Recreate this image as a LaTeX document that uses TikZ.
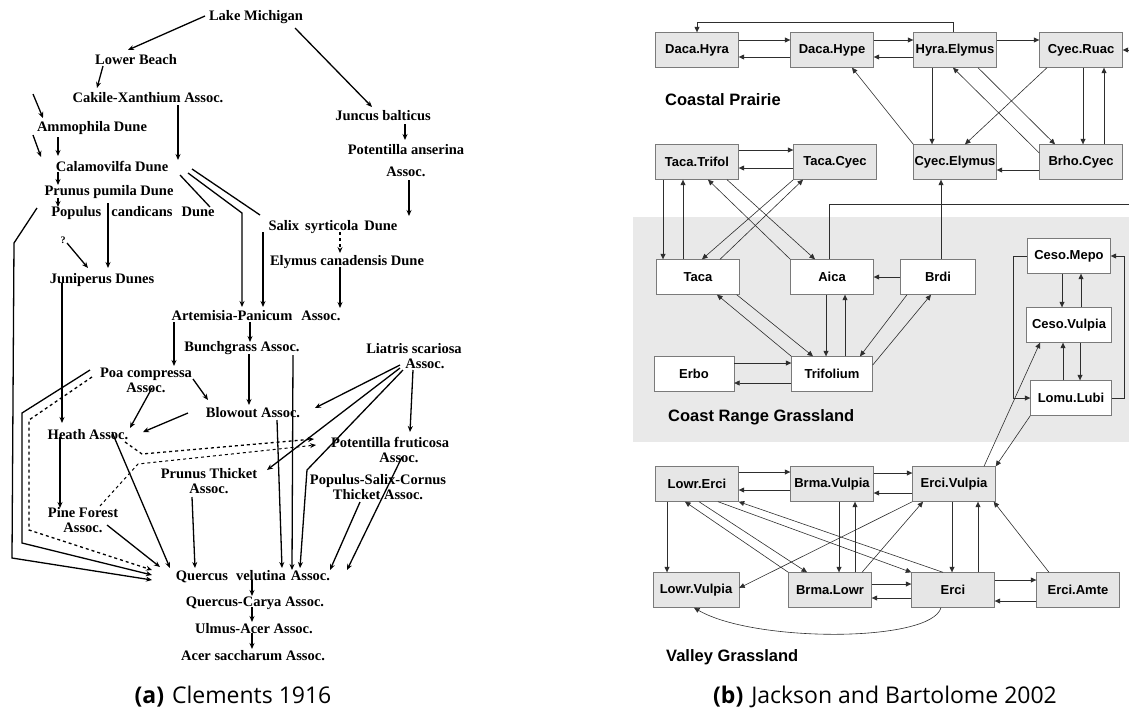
\documentclass[tikz,border=0pt]{standalone}
\usepackage{fontspec}
\usetikzlibrary{arrows.meta,calc}
\newfontfamily\clemfamily{Liberation Serif}
\newfontfamily\boxfamily{Liberation Sans}
\newfontfamily\capfamily{Open Sans}
\definecolor{boxfill}{HTML}{E6E6E6}
\definecolor{boxline}{HTML}{7A7A7A}
\definecolor{bandfill}{HTML}{E9E9E9}
\definecolor{edgecol}{HTML}{2E2E2E}
\tikzset{
  clem/.style={font=\clemfamily\bfseries\fontsize{14.5}{15}\selectfont, inner sep=0pt, align=center},
  cline/.style={line width=1.3pt},
  carr/.style={cline, -{Stealth[length=6pt,width=5pt]}},
  gbox/.style={draw=boxline, fill=boxfill, minimum width=83pt, minimum height=35pt,
    inner sep=0pt, font=\boxfamily\bfseries\fontsize{13}{15}\selectfont},
  wbox/.style={gbox, fill=white},
  bline/.style={line width=0.6pt, draw=edgecol},
  barr/.style={bline, -{Triangle[length=5.5pt,width=5pt]}},
  region/.style={anchor=west, inner sep=0pt, font=\boxfamily\bfseries\fontsize{16.5}{18}\selectfont},
  caption/.style={inner sep=0pt, font=\capfamily\fontsize{23}{26}\selectfont}
}
\begin{document}
\begin{tikzpicture}[x=1pt,y=-1pt]
\useasboundingbox (0,0) rectangle (1129,713);

% (a) Clements 1916
\node[clem] (lake) at (256,17) {Lake Michigan};
\node[clem] (lower) at (136,60) {Lower Beach};
\node[clem] (cakile) at (148,98) {Cakile-Xanthium Assoc.};
\node[clem] (ammo) at (92,128) {Ammophila Dune};
\node[clem] (calam) at (112,166) {Calamovilfa Dune};
\node[clem] (prunus) at (109,192) {Prunus pumila Dune};
\node[clem] (populus) at (133,213) {Populus\hspace{10pt}candicans\hspace{9pt}Dune};
\node[clem] (quest) at (63,240) {\fontsize{10}{12}\selectfont ?};
\node[clem] (junip) at (102,280) {Juniperus Dunes};
\node[clem] (salix) at (333,227) {Salix\hspace{6pt}syrticola\hspace{6pt}Dune};
\node[clem] (elymus) at (347,262) {Elymus canadensis Dune};
\node[clem] (juncus) at (383,116) {Juncus balticus};
\node[clem] (potans) at (406,161) {Potentilla anserina\\[7pt]Assoc.};
\node[clem] (artem) at (256,316) {Artemisia-Panicum\hspace{9pt}Assoc.};
\node[clem] (bunch) at (242,348) {Bunchgrass Assoc.};
\node[clem] (poa) at (146,380) {Poa compressa\\Assoc.};
\node[clem] (blowout) at (253,413) {Blowout Assoc.};
\node[clem] (liatris) at (414,356) {Liatris scariosa\\\hspace{22pt}Assoc.};
\node[clem] (heath) at (88,435) {Heath Assoc.};
\node[clem] (potfru) at (390,450) {Potentilla fruticosa\\\hspace{18pt}Assoc.};
\node[clem] (prunth) at (209,481) {Prunus Thicket\\Assoc.};
\node[clem] (popsal) at (378,487) {Populus-Salix-Cornus\\Thicket Assoc.};
\node[clem] (pine) at (83,520) {Pine Forest\\Assoc.};
\node[clem] (querc) at (253,577) {Quercus\hspace{8pt}velutina\hspace{5pt}Assoc.};
\node[clem] (qcarya) at (255,603) {Quercus-Carya Assoc.};
\node[clem] (ulmus) at (254,629) {Ulmus-Acer Assoc.};
\node[clem] (acer) at (253,656) {Acer saccharum Assoc.};
\coordinate (inA) at (33,94);
\coordinate (inB) at (33,135);

\draw[carr] ($(lake)+(-51,-1)$) -- ($(lower)+(-8,-10)$);
\draw[carr] ($(lake)+(39,11)$) -- ($(juncus)+(-11,-9)$);
\draw[carr] ($(lower)+(-33,6)$) -- ($(cakile)+(-51,-10)$);
\draw[carr] ($(cakile)+(30,7)$) -- ($(calam)+(66,-6)$);
\draw[carr] (inA) -- ($(ammo)+(-49,-10)$);
\draw[carr] (inB) -- ($(calam)+(-71,-9)$);
\draw[carr] ($(ammo)+(-34,9)$) -- ($(calam)+(-54,-10)$);
\draw[carr] ($(calam)+(-54,6)$) -- ($(prunus)+(-51,-7)$);
\draw[carr] ($(prunus)+(-51,6)$) -- ($(populus)+(-75,-6)$);
\draw[carr] ($(populus)+(-25,-10)$) -- ($(junip)+(6,-12)$);
\draw[carr] ($(quest)+(4,3)$) -- ($(junip)+(-14,-12)$);
\draw[cline] ($(calam)+(68,9)$) -- ($(populus)+(77,-6)$);
\draw[carr] ($(calam)+(76,7)$) -- (242,213) -- ($(artem)+(-14,-9)$);
\draw[cline] ($(calam)+(80,3)$) -- ($(salix)+(-73,-12)$);
\draw[carr] ($(salix)+(-70,5)$) -- ($(artem)+(7,-9)$);
\draw[carr, dashed] ($(salix)+(7,5)$) -- ($(elymus)+(-7,-9)$);
\draw[carr] ($(elymus)+(-7,5)$) -- ($(artem)+(84,-8)$);
\draw[carr] ($(juncus)+(22,8)$) -- ($(potans)+(-1,-21)$);
\draw[carr] ($(potans)+(3,19)$) -- ($(salix)+(76,-11)$);
\draw[carr] ($(artem)+(-6,6)$) -- ($(bunch)+(8,-6)$);
\draw[carr, line width=2pt] ($(artem)+(-82,6)$) -- ($(poa)+(28,-14)$);
\draw[carr] ($(bunch)+(7,6)$) -- ($(blowout)+(-4,-8)$);
\draw[carr] ($(poa)+(47,-1)$) -- ($(blowout)+(-45,-13)$);
\draw[carr] ($(poa)+(6,8)$) -- ($(heath)+(42,-7)$);
\draw[carr] ($(blowout)+(-65,0)$) -- ($(heath)+(55,-3)$);
\draw[carr] ($(junip)+(-40,3)$) -- ($(heath)+(-26,-12)$);
\draw[carr] ($(heath)+(-28,2)$) -- ($(pine)+(-23,-12)$);
\draw[carr] ($(pine)+(24,5)$) -- ($(querc)+(-93,-10)$);
\draw[carr] ($(heath)+(24,-3)$) -- ($(querc)+(-83,-9)$);
\draw[carr] ($(populus)+(-96,-5)$) -- (14,243) -- (12,558) -- ($(querc)+(-101,3)$);
\draw[carr] ($(poa)+(-56,-10)$) -- (22,413) -- (22,543) -- ($(querc)+(-101,-2)$);
\draw[carr, dashed] ($(poa)+(-54,-3)$) -- (29,420) -- (29,530) -- ($(querc)+(-101,-7)$);
\draw[carr, dashed] ($(heath)+(37,7)$) -- (142,454) -- ($(potfru)+(-76,-11)$);
\draw[carr, dashed, line width=1pt] ($(pine)+(17,-14)$) -- (138,464) -- ($(potfru)+(-74,-5)$);
\draw[carr] ($(liatris)+(-14,9)$) -- ($(blowout)+(62,-5)$);
\draw[carr] ($(liatris)+(-14,12)$) -- ($(prunth)+(58,-11)$);
\draw[carr] ($(liatris)+(-11,14)$) -- (307,470) -- ($(querc)+(47,-9)$);
\draw[carr] ($(liatris)+(-1,14)$) -- ($(potfru)+(20,-18)$);
\draw[carr] ($(potfru)+(12,7)$) -- ($(querc)+(94,-7)$);
\draw[carr] ($(popsal)+(-18,15)$) -- ($(querc)+(77,-7)$);
\draw[carr] ($(prunth)+(-17,16)$) -- ($(querc)+(-58,-9)$);
\draw[carr] ($(blowout)+(24,7)$) -- ($(querc)+(29,-9)$);
\draw[carr] ($(bunch)+(51,7)$) -- ($(querc)+(39,-7)$);
\draw[carr] ($(querc)+(-1,3)$) -- ($(qcarya)+(-3,-7)$);
\draw[carr] ($(qcarya)+(-3,4)$) -- ($(ulmus)+(-2,-7)$);
\draw[carr] ($(ulmus)+(-2,4)$) -- ($(acer)+(-1,-7)$);

\node[caption] (capA) at (233,697) {\textbf{(a)}\hspace{8pt}Clements 1916};

% (b) Jackson and Bartolome 2002
\fill[bandfill] (633,217) rectangle (1129,442);

\node[gbox] (dhyra) at (697,50) {Daca.Hyra};
\node[gbox] (dhype) at (832,50) {Daca.Hype};
\node[gbox] (hyel) at (955,50) {Hyra.Elymus};
\node[gbox] (cyru) at (1081,50) {Cyec.Ruac};
\node[gbox] (tatr) at (697,162) {Taca.Trifol};
\node[gbox] (tacy) at (835,162) {Taca.Cyec};
\node[gbox] (cyel) at (955,162) {Cyec.Elymus};
\node[gbox] (brcy) at (1081,162) {Brho.Cyec};
\node[region] (prairie) at (665,100) {Coastal Prairie};

\node[wbox] (taca) at (698,277) {Taca};
\node[wbox] (aica) at (832,277) {Aica};
\node[wbox, minimum width=75pt] (brdi) at (938,277) {Brdi};
\node[wbox, minimum width=80pt] (erbo) at (694,374) {Erbo};
\node[wbox, minimum width=81pt] (trif) at (832,374) {Trifolium};
\node[wbox] (cemp) at (1069,256) {Ceso.Mepo};
\node[wbox, minimum width=85pt] (cevu) at (1069,325) {Ceso.Vulpia};
\node[wbox, minimum width=81pt] (lolu) at (1071,398) {Lomu.Lubi};
\node[region] (range) at (668,417) {Coast Range Grassland};

\node[gbox] (lwer) at (697,484) {Lowr.Erci};
\node[gbox] (bmvu) at (832,484) {Brma.Vulpia};
\node[gbox] (ervu) at (954,484) {Erci.Vulpia};
\node[gbox, minimum width=86pt] (lwvu) at (696,590) {Lowr.Vulpia};
\node[gbox] (bmlw) at (830,590) {Brma.Lowr};
\node[gbox] (erci) at (953,590) {Erci};
\node[gbox] (eram) at (1078,590) {Erci.Amte};
\node[region] (valley) at (666,657) {Valley Grassland};
\coordinate (rimA) at (1129,50);
\coordinate (rimB) at (1129,204);

% coastal prairie
\draw[barr] ([yshift=10pt]dhyra.east) -- ([yshift=10pt]dhype.west);
\draw[barr] ([yshift=-7pt]dhype.west) -- ([yshift=-7pt]dhyra.east);
\draw[barr] ([yshift=10pt]dhype.east) -- ([yshift=10pt]hyel.west);
\draw[barr] ([yshift=-7pt]hyel.west) -- ([yshift=-7pt]dhype.east);
\draw[barr] ([yshift=10pt]hyel.east) -- ([yshift=10pt]cyru.west);
\draw[barr] ([xshift=-2pt]hyel.north) -- ++(0,-10) -| (dhyra.north);
\draw[barr] (rimA) -- (cyru.east);
\draw[barr] (cyel.north west) -- ([xshift=20pt]dhype.south);
\draw[barr] ([xshift=-23pt]hyel.south) -- ([xshift=-23pt]cyel.north);
\draw[barr] ([xshift=23pt]hyel.south) -- ([xshift=-26pt]brcy.north);
\draw[barr] ([yshift=9pt]brcy.west) -- ([xshift=-2pt]hyel.south);
\draw[barr] ([xshift=-34pt]cyru.south) -- ([xshift=10pt]cyel.north);
\draw[barr] ([xshift=2pt]cyru.south) -- ([xshift=2pt]brcy.north);
\draw[barr] ([xshift=23pt]brcy.north) -- ([xshift=23pt]cyru.south);
\draw[barr] ([yshift=-8pt]brcy.west) -- ([yshift=-8pt]cyel.east);
\draw[barr] ([yshift=12pt]tatr.east) -- ([yshift=12pt]tacy.west);
\draw[barr] ([yshift=-6pt]tacy.west) -- ([yshift=-6pt]tatr.east);

% coast range grassland
\draw[barr] ([xshift=-34pt]tatr.south) -- ([xshift=-35pt]taca.north);
\draw[barr] ([xshift=-15pt]taca.north) -- ([xshift=-14pt]tatr.south);
\draw[barr] ([xshift=30pt]tatr.south) -- ([xshift=-17pt]aica.north);
\draw[barr] (aica.north west) -- ([xshift=11pt]tatr.south);
\draw[barr] (tacy.south west) -- ([xshift=4pt]taca.north);
\draw[barr] ([xshift=22pt]taca.north) -- ([xshift=-32pt]tacy.south);
\draw[bline] ([xshift=-3pt]aica.north) |- (rimB);
\draw[barr] (brdi.west) -- (aica.east);
\draw[barr] ([xshift=3pt]brdi.north) -- ([xshift=-14pt]cyel.south);
\draw[barr] ([xshift=-6pt]aica.south) -- ([xshift=-6pt]trif.north);
\draw[barr] ([xshift=13pt]trif.north) -- ([xshift=13pt]aica.south);
\draw[barr] ([xshift=-31pt]brdi.south) -- ([xshift=28pt]trif.north);
\draw[barr] ([yshift=9pt]trif.east) -- ([xshift=-7pt]brdi.south);
\draw[barr] ([xshift=-3pt]taca.south east) -- ([xshift=-19pt]trif.north);
\draw[barr] (trif.north west) -- ([xshift=19pt]taca.south);
\draw[barr] ([yshift=11pt]erbo.east) -- ([yshift=11pt]trif.west);
\draw[barr] ([yshift=-9pt]trif.west) -- ([yshift=-9pt]erbo.east);
\draw[barr] ([xshift=-7pt]cemp.south) -- ([xshift=-7pt]cevu.north);
\draw[barr] ([xshift=12pt]cevu.north) -- ([xshift=12pt]cemp.south);
\draw[barr] ([xshift=11pt]cevu.south) -- ([xshift=9pt]lolu.north);
\draw[barr] ([xshift=-8pt]lolu.north) -- ([xshift=-6pt]cevu.south);
\draw[barr] (cemp.west) -- ++(-14,0) |- (lolu.west);
\draw[barr] (lolu.east) -- ++(13,0) |- (cemp.east);

% valley grassland
\draw[barr] ([xshift=30pt]ervu.north) -- ([xshift=-29pt]cevu.south);
\draw[barr] (lolu.south west) -- (ervu.north east);
\draw[barr] ([yshift=12pt]lwer.east) -- ([yshift=12pt]bmvu.west);
\draw[barr] ([yshift=-6pt]bmvu.west) -- ([yshift=-6pt]lwer.east);
\draw[barr] ([yshift=11pt]bmvu.east) -- ([yshift=11pt]ervu.west);
\draw[barr] ([yshift=-9pt]ervu.west) -- ([yshift=-9pt]bmvu.east);
\draw[barr] ([xshift=-30pt]lwer.south) -- ([xshift=-29pt]lwvu.north);
\draw[barr] ([xshift=7pt]bmvu.south) -- ([xshift=9pt]bmlw.north);
\draw[barr] ([xshift=25pt]bmlw.north) -- ([xshift=23pt]bmvu.south);
\draw[barr] ([xshift=-2pt]ervu.south) -- ([xshift=-1pt]erci.north);
\draw[barr] ([xshift=25pt]erci.north) -- ([xshift=24pt]ervu.south);
\draw[barr] ([xshift=-29pt]eram.north) -- ([xshift=-2pt]ervu.south east);
\draw[barr] ([yshift=10pt]erci.east) -- ([yshift=10pt]eram.west);
\draw[barr] ([yshift=-11pt]eram.west) -- ([yshift=-11pt]erci.east);
\draw[barr] ([yshift=6pt]bmlw.east) -- ([yshift=6pt]erci.west);
\draw[barr] ([yshift=-8pt]erci.west) -- ([yshift=-8pt]bmlw.east);
\draw[barr] ([xshift=2pt]lwer.south) -- ([xshift=-23pt]bmlw.north);
\draw[barr] (bmlw.north west) -- ([xshift=-12pt]lwer.south);
\draw[barr] ([xshift=21pt]lwer.south) -- (erci.north west);
\draw[barr] ([xshift=-10pt]erci.north) -- (lwer.south east);
\draw[barr] (ervu.south west) -- ([yshift=2pt]lwvu.east);
\draw[barr] ([xshift=32pt]bmlw.north) -- ([xshift=-31pt]ervu.south);
\draw[barr] ([xshift=-12pt]erci.south) .. controls +(-10,35) and +(60,35) .. ([xshift=-2pt]lwvu.south);

\node[caption] (capB) at (885,697) {\textbf{(b)}\hspace{8pt}Jackson and Bartolome 2002};
\end{tikzpicture}
\end{document}
